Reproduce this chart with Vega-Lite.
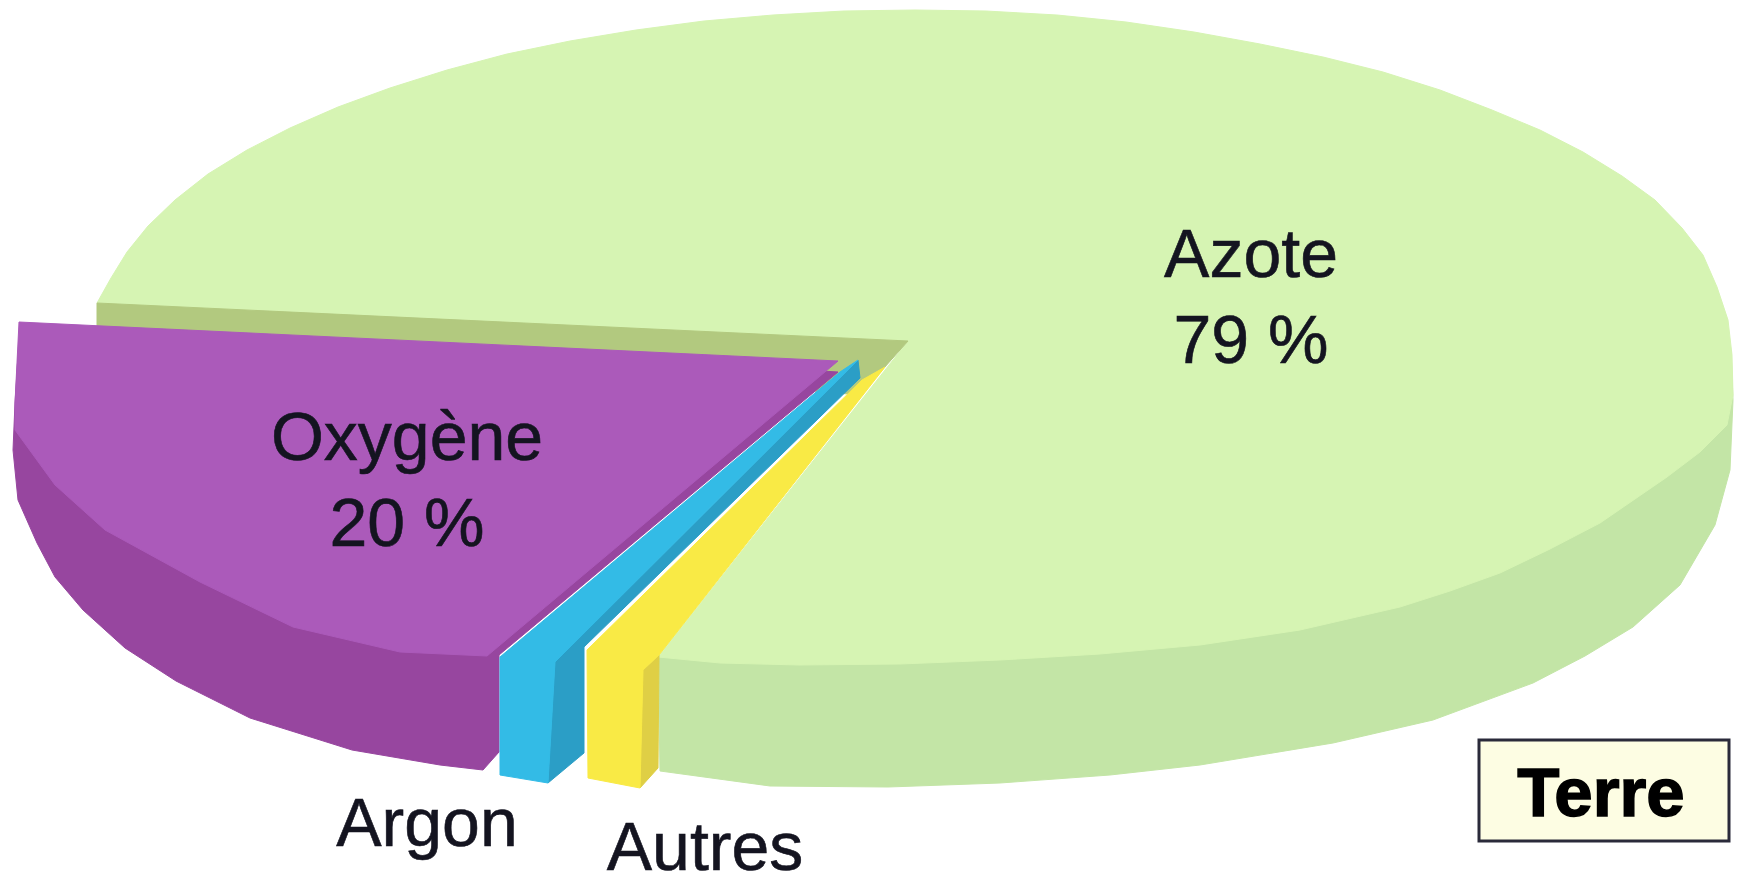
{"$schema":"https://vega.github.io/schema/vega-lite/v6.json","width":1740,"height":879,"padding":0,"autosize":{"type":"none"},"background":"#ffffff","view":{"stroke":null},"config":{"font":"Liberation Sans"},
"datasets":{"poly":[
{"part":"Azote flanc","i":1,"x":658,"y":655},{"part":"Azote flanc","i":2,"x":1100,"y":640},{"part":"Azote flanc","i":3,"x":1400,"y":600},{"part":"Azote flanc","i":4,"x":1600,"y":515},{"part":"Azote flanc","i":5,"x":1700,"y":440},{"part":"Azote flanc","i":6,"x":1731,"y":350},{"part":"Azote flanc","i":7,"x":1733,"y":400},{"part":"Azote flanc","i":8,"x":1730,"y":470},{"part":"Azote flanc","i":9,"x":1715,"y":525},{"part":"Azote flanc","i":10,"x":1680,"y":585},{"part":"Azote flanc","i":11,"x":1633,"y":627},{"part":"Azote flanc","i":12,"x":1585,"y":656},{"part":"Azote flanc","i":13,"x":1533,"y":683},{"part":"Azote flanc","i":14,"x":1433,"y":720},{"part":"Azote flanc","i":15,"x":1333,"y":743},{"part":"Azote flanc","i":16,"x":1200,"y":765},{"part":"Azote flanc","i":17,"x":1110,"y":775},{"part":"Azote flanc","i":18,"x":1000,"y":783},{"part":"Azote flanc","i":19,"x":888,"y":787},{"part":"Azote flanc","i":20,"x":770,"y":786},{"part":"Azote flanc","i":21,"x":660,"y":771},
{"part":"Azote","i":1,"x":97,"y":303},{"part":"Azote","i":2,"x":111,"y":278},{"part":"Azote","i":3,"x":127,"y":252},{"part":"Azote","i":4,"x":148,"y":226},{"part":"Azote","i":5,"x":175,"y":200},{"part":"Azote","i":6,"x":208,"y":174},{"part":"Azote","i":7,"x":247,"y":150},{"part":"Azote","i":8,"x":290,"y":128},{"part":"Azote","i":9,"x":338,"y":107},{"part":"Azote","i":10,"x":390,"y":88},{"part":"Azote","i":11,"x":447,"y":70},{"part":"Azote","i":12,"x":507,"y":54},{"part":"Azote","i":13,"x":570,"y":41},{"part":"Azote","i":14,"x":636,"y":30},{"part":"Azote","i":15,"x":704,"y":21},{"part":"Azote","i":16,"x":773,"y":15},{"part":"Azote","i":17,"x":844,"y":11},{"part":"Azote","i":18,"x":915,"y":10},{"part":"Azote","i":19,"x":986,"y":11},{"part":"Azote","i":20,"x":1057,"y":15},{"part":"Azote","i":21,"x":1126,"y":22},{"part":"Azote","i":22,"x":1194,"y":32},{"part":"Azote","i":23,"x":1260,"y":44},{"part":"Azote","i":24,"x":1323,"y":57},{"part":"Azote","i":25,"x":1383,"y":72},{"part":"Azote","i":26,"x":1440,"y":90},{"part":"Azote","i":27,"x":1492,"y":110},{"part":"Azote","i":28,"x":1540,"y":130},{"part":"Azote","i":29,"x":1583,"y":152},{"part":"Azote","i":30,"x":1622,"y":176},{"part":"Azote","i":31,"x":1655,"y":200},{"part":"Azote","i":32,"x":1682,"y":228},{"part":"Azote","i":33,"x":1703,"y":255},{"part":"Azote","i":34,"x":1717,"y":287},{"part":"Azote","i":35,"x":1728,"y":320},{"part":"Azote","i":36,"x":1732,"y":355},{"part":"Azote","i":37,"x":1733,"y":395},{"part":"Azote","i":38,"x":1727,"y":425},{"part":"Azote","i":39,"x":1700,"y":452},{"part":"Azote","i":40,"x":1667,"y":477},{"part":"Azote","i":41,"x":1600,"y":523},{"part":"Azote","i":42,"x":1550,"y":549},{"part":"Azote","i":43,"x":1500,"y":573},{"part":"Azote","i":44,"x":1450,"y":591},{"part":"Azote","i":45,"x":1400,"y":607},{"part":"Azote","i":46,"x":1300,"y":630},{"part":"Azote","i":47,"x":1200,"y":645},{"part":"Azote","i":48,"x":1100,"y":654},{"part":"Azote","i":49,"x":1000,"y":660},{"part":"Azote","i":50,"x":900,"y":664},{"part":"Azote","i":51,"x":800,"y":665},{"part":"Azote","i":52,"x":720,"y":663},{"part":"Azote","i":53,"x":658,"y":657},{"part":"Azote","i":54,"x":908,"y":341},
{"part":"Coupe","i":1,"x":97,"y":303},{"part":"Coupe","i":2,"x":908,"y":341},{"part":"Coupe","i":3,"x":860,"y":395},{"part":"Coupe","i":4,"x":97,"y":330},
{"part":"Oxygène flanc","i":1,"x":20,"y":323},{"part":"Oxygène flanc","i":2,"x":15,"y":403},{"part":"Oxygène flanc","i":3,"x":13,"y":450},{"part":"Oxygène flanc","i":4,"x":18,"y":500},{"part":"Oxygène flanc","i":5,"x":37,"y":543},{"part":"Oxygène flanc","i":6,"x":55,"y":577},{"part":"Oxygène flanc","i":7,"x":83,"y":610},{"part":"Oxygène flanc","i":8,"x":125,"y":648},{"part":"Oxygène flanc","i":9,"x":176,"y":681},{"part":"Oxygène flanc","i":10,"x":250,"y":718},{"part":"Oxygène flanc","i":11,"x":352,"y":750},{"part":"Oxygène flanc","i":12,"x":440,"y":765},{"part":"Oxygène flanc","i":13,"x":483,"y":770},{"part":"Oxygène flanc","i":14,"x":499,"y":752},{"part":"Oxygène flanc","i":15,"x":499,"y":655},{"part":"Oxygène flanc","i":16,"x":838,"y":372},
{"part":"Oxygène","i":1,"x":19,"y":322},{"part":"Oxygène","i":2,"x":838,"y":361},{"part":"Oxygène","i":3,"x":487,"y":656},{"part":"Oxygène","i":4,"x":400,"y":652},{"part":"Oxygène","i":5,"x":293,"y":627},{"part":"Oxygène","i":6,"x":200,"y":582},{"part":"Oxygène","i":7,"x":105,"y":530},{"part":"Oxygène","i":8,"x":55,"y":485},{"part":"Oxygène","i":9,"x":15,"y":430},{"part":"Oxygène","i":10,"x":15,"y":403},
{"part":"Argon flanc","i":1,"x":555,"y":662},{"part":"Argon flanc","i":2,"x":858,"y":360},{"part":"Argon flanc","i":3,"x":860,"y":378},{"part":"Argon flanc","i":4,"x":584,"y":647},{"part":"Argon flanc","i":5,"x":584,"y":753},{"part":"Argon flanc","i":6,"x":548,"y":783},
{"part":"Argon","i":1,"x":858,"y":360},{"part":"Argon","i":2,"x":840,"y":372},{"part":"Argon","i":3,"x":500,"y":657},{"part":"Argon","i":4,"x":500,"y":775},{"part":"Argon","i":5,"x":548,"y":783},{"part":"Argon","i":6,"x":555,"y":662},
{"part":"Autres flanc","i":1,"x":643,"y":670},{"part":"Autres flanc","i":2,"x":659,"y":655},{"part":"Autres flanc","i":3,"x":658,"y":768},{"part":"Autres flanc","i":4,"x":640,"y":788},
{"part":"Autres","i":1,"x":885,"y":367},{"part":"Autres","i":2,"x":862,"y":380},{"part":"Autres","i":3,"x":587,"y":650},{"part":"Autres","i":4,"x":588,"y":778},{"part":"Autres","i":5,"x":640,"y":788},{"part":"Autres","i":6,"x":643,"y":670},{"part":"Autres","i":7,"x":659,"y":655}
],
"labels":[
{"t":"Azote","x":1251,"y":277},{"t":"79 %","x":1251,"y":363},{"t":"Oxygène","x":407,"y":460},{"t":"20 %","x":407,"y":546},{"t":"Argon","x":427,"y":846},{"t":"Autres","x":705,"y":870}],
"box":[{"x":1479,"x2":1729,"y":740,"y2":841}],
"title":[{"t":"Terre","x":1601,"y":816}]},
"layer":[
{"data":{"name":"poly"},"mark":{"type":"line","filled":true,"strokeWidth":1,"interpolate":"linear-closed"},
"encoding":{"x":{"field":"x","type":"quantitative","scale":{"domain":[0,1740],"nice":false,"zero":false},"axis":null},
"y":{"field":"y","type":"quantitative","scale":{"domain":[879,0],"nice":false,"zero":false},"axis":null},
"order":{"field":"i","type":"ordinal"},
"fill":{"field":"part","type":"nominal","legend":null,"sort":null,"scale":{"domain":["Azote flanc","Azote","Coupe","Oxygène flanc","Oxygène","Argon flanc","Argon","Autres flanc","Autres"],"range":["#c3e5a6","#d6f4b3","#b2c97f","#97469f","#ab5aba","#2b9ec6","#33bbe6","#dfcf45","#f9ea45"]}},
"stroke":{"field":"part","type":"nominal","legend":null,"scale":{"domain":["Azote flanc","Azote","Coupe","Oxygène flanc","Oxygène","Argon flanc","Argon","Autres flanc","Autres"],"range":["#c3e5a6","#d6f4b3","#b2c97f","#97469f","#ab5aba","#2b9ec6","#33bbe6","#dfcf45","#f9ea45"]}}}},
{"data":{"name":"box"},"mark":{"type":"rect","fill":"#fdfde3","stroke":"#2a2a3a","strokeWidth":3},"encoding":{"x":{"field":"x","type":"quantitative"},"x2":{"field":"x2"},"y":{"field":"y","type":"quantitative"},"y2":{"field":"y2"}}},
{"data":{"name":"labels"},"mark":{"type":"text","font":"Liberation Sans","fontSize":68,"align":"center","baseline":"alphabetic","fill":"#141420","stroke":"#141420","strokeWidth":0.6},"encoding":{"x":{"field":"x","type":"quantitative"},"y":{"field":"y","type":"quantitative"},"text":{"field":"t"}}},
{"data":{"name":"title"},"mark":{"type":"text","font":"Liberation Sans","fontWeight":"bold","fontSize":69,"align":"center","baseline":"alphabetic","fill":"#000000","stroke":"#000000","strokeWidth":1.5},"encoding":{"x":{"field":"x","type":"quantitative"},"y":{"field":"y","type":"quantitative"},"text":{"field":"t"}}}
]}
